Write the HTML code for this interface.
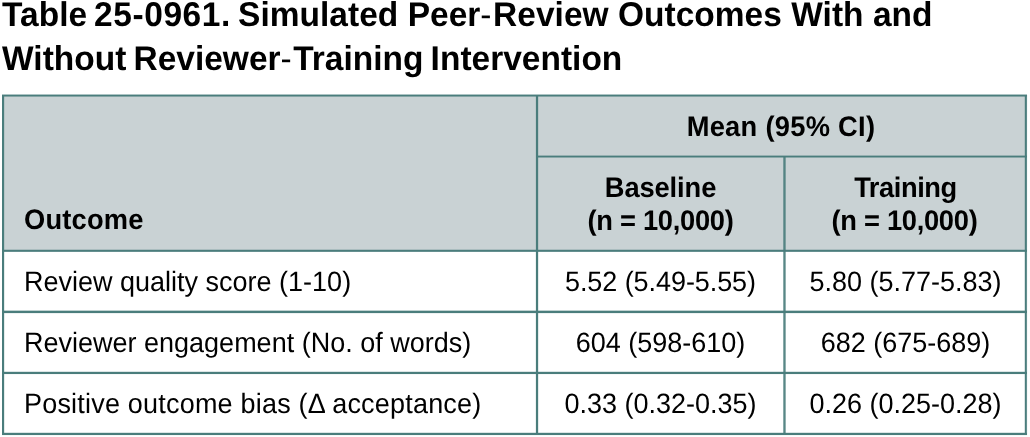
<!DOCTYPE html>
<html><head><meta charset="utf-8"><title>Table 25-0961</title>
<style>
html,body{margin:0;padding:0;background:#fff;}
body{width:1030px;height:437px;overflow:hidden;position:relative;font-family:"Liberation Sans",Arial,sans-serif;color:#000;}
.t{position:absolute;white-space:nowrap;line-height:1;will-change:transform;text-rendering:geometricPrecision;transform-origin:0 0.8467em;}
.l{position:absolute;}
.bg{position:absolute;background:#c9d2d4;}
.hy{font-weight:normal;margin-right:1.5px;}
.title{font-weight:bold;font-size:33.5px;left:2px;letter-spacing:0.02px;transform:scaleY(1.025);}
.hd{font-weight:bold;font-size:27.3px;transform:scaleY(1.035);}
.bd{font-size:27px;transform:scaleY(1.035);}
.c2{left:537px;width:247px;text-align:center;}
.c3{left:786px;width:239px;text-align:center;}
.c23{left:537px;width:488px;text-align:center;}
</style></head><body>
<div class="t title" style="top:-1.4px">Table <span style="letter-spacing:0.6px;margin-left:-2.5px;margin-right:-2.3px">25-0961.</span> Simulated Peer<span class="hy">-</span>Review Outcomes With and</div>
<div class="t title" style="top:42.6px;word-spacing:-2.2px;letter-spacing:0">Without Reviewer<span class="hy">-</span>Training Intervention</div>

<div class="bg" style="left:2px;top:95px;width:1025px;height:156px"></div>
<div class="l" style="left:2px;top:94px;width:1025px;height:1px;background:rgba(74,125,124,0.45)"></div>
<div class="l" style="left:2px;top:95px;width:1025px;height:1px;background:rgba(74,125,124,1)"></div>
<div class="l" style="left:2px;top:96px;width:1025px;height:1px;background:rgba(74,125,124,0.55)"></div>
<div class="l" style="left:536px;top:155px;width:491px;height:1px;background:rgba(74,125,124,0.4)"></div>
<div class="l" style="left:536px;top:156px;width:491px;height:1px;background:rgba(74,125,124,1)"></div>
<div class="l" style="left:536px;top:157px;width:491px;height:1px;background:rgba(74,125,124,0.5)"></div>
<div class="l" style="left:2px;top:249px;width:1025px;height:1px;background:rgba(74,125,124,0.25)"></div>
<div class="l" style="left:2px;top:250px;width:1025px;height:1px;background:rgba(74,125,124,1)"></div>
<div class="l" style="left:2px;top:251px;width:1025px;height:1px;background:rgba(74,125,124,0.85)"></div>
<div class="l" style="left:2px;top:310px;width:1025px;height:1px;background:rgba(74,125,124,0.35)"></div>
<div class="l" style="left:2px;top:311px;width:1025px;height:1px;background:rgba(74,125,124,1)"></div>
<div class="l" style="left:2px;top:312px;width:1025px;height:1px;background:rgba(74,125,124,1)"></div>
<div class="l" style="left:2px;top:313px;width:1025px;height:1px;background:rgba(74,125,124,0.1)"></div>
<div class="l" style="left:2px;top:371px;width:1025px;height:1px;background:rgba(74,125,124,0.2)"></div>
<div class="l" style="left:2px;top:372px;width:1025px;height:1px;background:rgba(74,125,124,1)"></div>
<div class="l" style="left:2px;top:373px;width:1025px;height:1px;background:rgba(74,125,124,1)"></div>
<div class="l" style="left:2px;top:374px;width:1025px;height:1px;background:rgba(74,125,124,0.05)"></div>
<div class="l" style="left:2px;top:432px;width:1025px;height:1px;background:rgba(74,125,124,0.2)"></div>
<div class="l" style="left:2px;top:433px;width:1025px;height:1px;background:rgba(74,125,124,1)"></div>
<div class="l" style="left:2px;top:434px;width:1025px;height:1px;background:rgba(74,125,124,1)"></div>
<div class="l" style="left:2px;top:435px;width:1025px;height:1px;background:rgba(74,125,124,0.05)"></div>
<div class="l" style="left:2px;top:95px;width:1px;height:340px;background:rgba(74,125,124,1)"></div>
<div class="l" style="left:3px;top:95px;width:1px;height:340px;background:rgba(74,125,124,1)"></div>
<div class="l" style="left:4px;top:95px;width:1px;height:340px;background:rgba(74,125,124,0.15)"></div>
<div class="l" style="left:535px;top:95px;width:1px;height:340px;background:rgba(74,125,124,0.1)"></div>
<div class="l" style="left:536px;top:95px;width:1px;height:340px;background:rgba(74,125,124,1)"></div>
<div class="l" style="left:537px;top:95px;width:1px;height:340px;background:rgba(74,125,124,1)"></div>
<div class="l" style="left:538px;top:95px;width:1px;height:340px;background:rgba(74,125,124,0.15)"></div>
<div class="l" style="left:783px;top:157px;width:1px;height:278px;background:rgba(74,125,124,0.65)"></div>
<div class="l" style="left:784px;top:157px;width:1px;height:278px;background:rgba(74,125,124,0.92)"></div>
<div class="l" style="left:785px;top:157px;width:1px;height:278px;background:rgba(74,125,124,0.6)"></div>
<div class="l" style="left:1024px;top:95px;width:1px;height:340px;background:rgba(74,125,124,0.2)"></div>
<div class="l" style="left:1025px;top:95px;width:1px;height:340px;background:rgba(74,125,124,1)"></div>
<div class="l" style="left:1026px;top:95px;width:1px;height:340px;background:rgba(74,125,124,0.85)"></div>
<div class="l" style="left:1027px;top:95px;width:1px;height:340px;background:rgba(74,125,124,0.05)"></div>

<div class="t hd c23" style="top:112.7px;letter-spacing:0.28px">Mean (95% CI)</div>
<div class="t hd c2" style="top:173.7px;letter-spacing:-0.11px">Baseline</div>
<div class="t hd c2" style="top:206.5px;letter-spacing:-0.28px">(n = 10,000)</div>
<div class="t hd c3" style="top:173.7px;letter-spacing:-0.43px">Training</div>
<div class="t hd c3" style="top:206.5px;letter-spacing:-0.3px;margin-left:-0.9px">(n = 10,000)</div>
<div class="t hd" style="left:23.6px;top:205.9px;letter-spacing:0.2px">Outcome</div>

<div class="t bd" style="left:23.8px;top:268.8px">Review quality score (1-10)</div>
<div class="t bd" style="left:23.8px;top:329.7px">Reviewer engagement (No. of words)</div>
<div class="t bd" style="left:23.8px;top:390.5px;letter-spacing:0.2px">Positive outcome bias (&Delta; acceptance)</div>

<div class="t bd c2" style="top:268.8px;letter-spacing:-0.07px">5.52 (5.49-5.55)</div>
<div class="t bd c2" style="top:329.7px">604 (598-610)</div>
<div class="t bd c2" style="top:390.5px">0.33 (0.32-0.35)</div>
<div class="t bd c3" style="top:268.8px">5.80 (5.77-5.83)</div>
<div class="t bd c3" style="top:329.7px">682 (675-689)</div>
<div class="t bd c3" style="top:390.5px">0.26 (0.25-0.28)</div>
</body></html>
